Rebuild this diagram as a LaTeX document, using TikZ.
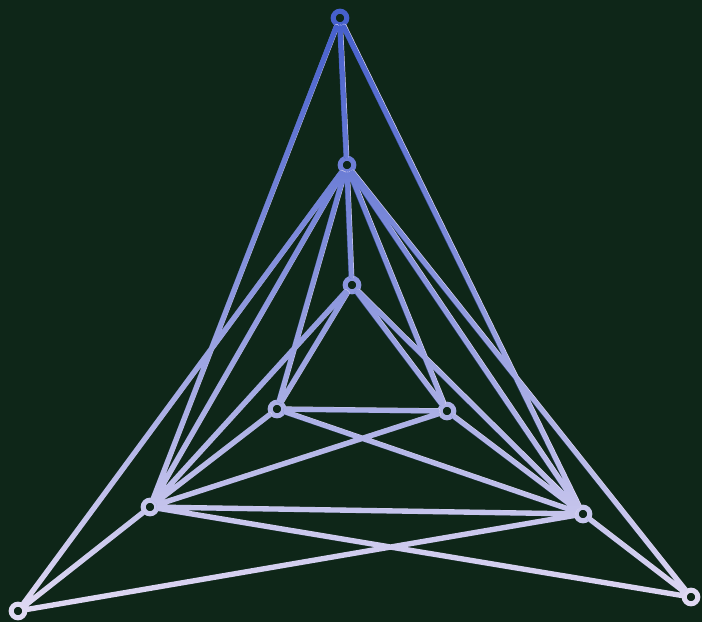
\documentclass[tikz,border=0pt]{standalone}
\usetikzlibrary{fadings}
\definecolor{board}{RGB}{14,38,24}
\definecolor{cordtop}{RGB}{70,96,205}
\definecolor{cordlow}{RGB}{224,217,243}

\begin{document}
\begin{tikzpicture}[x=0.025cm,y=-0.025cm,
  knot/.style={circle,draw=#1,fill=board,line width=3.6pt,minimum size=0.34cm,inner sep=0pt},
  cord/.style={line width=3.8pt,line cap=round}]
\fill[board] (0,0) rectangle (702,622);
% nine knots, top to bottom
\node[knot=cordtop] (A) at (340,18) {};
\node[knot=cordtop!75!cordlow] (B) at (347,165) {};
\node[knot=cordtop!55!cordlow] (C) at (352,285) {};
\node[knot=cordtop!34!cordlow] (D) at (277,409) {};
\node[knot=cordtop!34!cordlow] (E) at (447,411) {};
\node[knot=cordtop!16!cordlow] (F) at (150,507) {};
\node[knot=cordtop!16!cordlow] (G) at (583,514) {};
\node[knot=cordlow] (H) at (18,611) {};
\node[knot=cordlow] (I) at (691,597) {};
% strings: pale base, blue fading in from the top
\draw[cord,cordlow] foreach \u/\v in {A/B,A/F,A/G,B/C,B/D,B/E,B/F,B/G,B/H,B/I,
  C/D,C/E,C/F,C/G,D/E,D/F,D/G,E/F,E/G,F/G,F/H,F/I,G/H,G/I} {(\u) -- (\v)};
\draw[cord,cordtop,path fading=south] foreach \u/\v in {A/B,A/F,A/G,B/C,B/D,B/E,B/F,B/G,B/H,B/I,
  C/D,C/E,C/F,C/G,D/E,D/F,D/G,E/F,E/G,F/G,F/H,F/I,G/H,G/I} {(\u) -- (\v)};
\end{tikzpicture}
\end{document}
